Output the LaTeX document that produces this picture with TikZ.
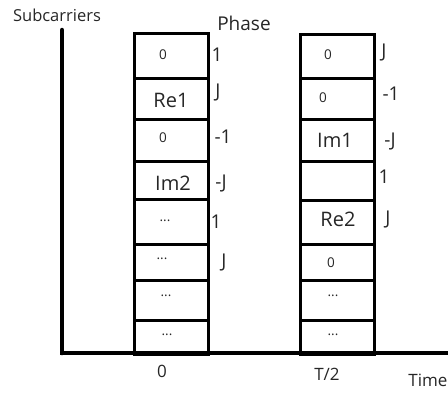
\documentclass[tikz,border=0pt]{standalone}
\usepackage{fontspec}
\setmainfont{Open Sans}
\begin{document}
\begin{tikzpicture}[x=1pt,y=-1pt,
  axis/.style={line width=4.5pt,line cap=round},
  cell/.style={draw,line width=2.6pt,anchor=north west,minimum width=74pt,inner sep=0pt},
  big/.style={font=\fontsize{20}{20}\selectfont,inner sep=0pt,text=black!85},
  small/.style={font=\fontsize{13.5}{13.5}\selectfont,inner sep=0pt,text=black!85},
  lbl/.style={font=\fontsize{19}{19}\selectfont,inner sep=0pt,text=black!85},
  tick/.style={font=\fontsize{17}{17}\selectfont,inner sep=0pt,text=black!85}]
\useasboundingbox (0,0) rectangle (448,392);

% axes
\coordinate (top) at (62,30);
\coordinate (origin) at (62,353);
\coordinate (right) at (450,353);
\draw[axis] (top) -- (origin);
\draw[line width=4.5pt] (60,353) -- (right);

% first column of subcarriers (time 0)
\node[cell,minimum height=45pt] (a1) at (133,32) {};
\node[cell,minimum height=41pt] (a2) at (133,77) {};
\node[cell,minimum height=42pt] (a3) at (133,118) {};
\node[cell,minimum height=38pt] (a4) at (133,160) {};
\node[cell,minimum height=45pt] (a5) at (133,198) {};
\node[cell,minimum height=36pt] (a6) at (133,243) {};
\node[cell,minimum height=40pt] (a7) at (133,279) {};
\node[cell,minimum height=34pt] (a8) at (133,319) {};

% second column of subcarriers (time T/2)
\node[cell,minimum height=44pt] (b1) at (299,33) {};
\node[cell,minimum height=41pt] (b2) at (299,77) {};
\node[cell,minimum height=42pt] (b3) at (299,118) {};
\node[cell,minimum height=39pt] (b4) at (299,160) {};
\node[cell,minimum height=44pt] (b5) at (299,199) {};
\node[cell,minimum height=36pt] (b6) at (299,243) {};
\node[cell,minimum height=40pt] (b7) at (299,279) {};
\node[cell,minimum height=34pt] (b8) at (299,319) {};

% cell contents, column 1
\node[small] (ta1) at (163,55) {0};
\node[big]   (ta2) at (171,100) {Re1};
\node[small] (ta3) at (163,138) {0};
\node[big]   (ta4) at (173,183) {Im2};
\node[small] (ta5) at (165,221) {...};
\node[small] (ta6) at (162,259) {...};
\node[small] (ta7) at (166,296) {...};
\node[small] (ta8) at (167,335) {...};

% cell contents, column 2
\node[small] (tb1) at (328,55) {0};
\node[small] (tb2) at (323,98) {0};
\node[big]   (tb3) at (335,140) {Im1};
\node[big]   (tb5) at (338,219) {Re2};
\node[small] (tb6) at (331,263) {0};
\node[small] (tb7) at (333,296) {...};
\node[small] (tb8) at (333,335) {...};

% phases, column 1
\node[lbl] (pa1) at (217,55) {1};
\node[lbl] (pa2) at (218,92) {J};
\node[lbl] (pa3) at (223,137) {-1};
\node[lbl] (pa4) at (221,183) {-J};
\node[lbl] (pa5) at (216,222) {1};
\node[lbl] (pa6) at (224,262) {J};

% phases, column 2
\node[lbl] (pb1) at (384,52) {J};
\node[lbl] (pb2) at (391,94) {-1};
\node[lbl] (pb3) at (390,141) {-J};
\node[lbl] (pb4) at (384,177) {1};
\node[lbl] (pb5) at (388,219) {J};

% axis titles and tick labels
\node[lbl] (phase) at (244,23) {Phase};
\node[font=\fontsize{16.5}{16.5}\selectfont,inner sep=0pt,text=black!85] (sub) at (57,15) {Subcarriers};
\node[tick] (t0) at (162,371) {0};
\node[tick] (t1) at (327,374) {T/2};
\node[tick] (time) at (428,380) {Time};
\end{tikzpicture}
\end{document}
